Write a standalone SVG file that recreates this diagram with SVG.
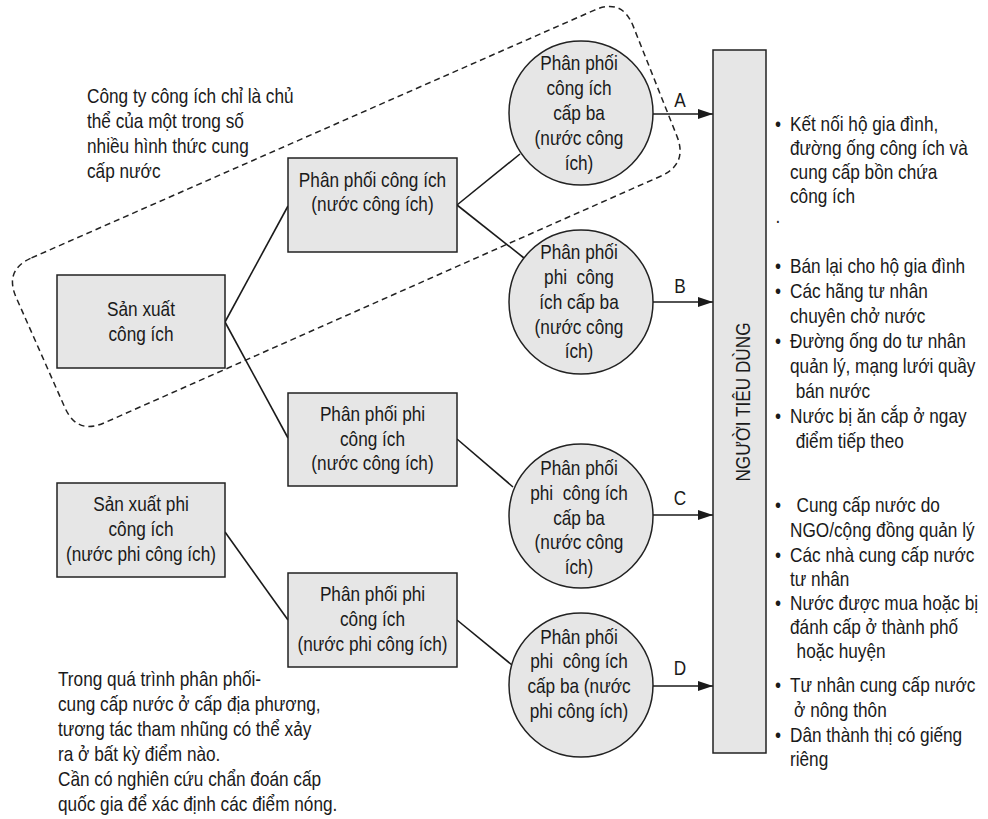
<svg xmlns="http://www.w3.org/2000/svg" width="988" height="819" viewBox="0 0 988 819">
  <style>
    .box { fill: #e6e6e6; stroke: #222; stroke-width: 1.5; }
    .t { font-family: "Liberation Sans", Arial, sans-serif; font-size: 21px; fill: #1a1a1a; }
    .c { text-anchor: middle; }
    .edge { stroke: #1a1a1a; stroke-width: 1.6; fill: none; }
    .arrow { stroke: #1a1a1a; stroke-width: 1.6; fill: none; marker-end: url(#head); }
    .region { stroke: #222; stroke-width: 1.5; stroke-dasharray: 6 4; fill: none; }
  </style>
  <defs>
    <marker id="head" markerUnits="userSpaceOnUse" markerWidth="15" markerHeight="10" refX="15" refY="5" orient="auto">
      <path d="M0,0 L15,5 L0,10 Z" fill="#1a1a1a"/>
    </marker>
  </defs>
  <rect width="988" height="819" fill="#ffffff"/>

  <!-- dashed boundary around the public utility chain -->
  <g id="utility-boundary">
    <path class="region" d="M31.5,257.9 L594.5,10.1 Q622,-2 633.1,25.9 L676.9,136.1 Q688,164 660.6,176.2 L104.4,422.8 Q77,435 64.8,407.5 L16.2,297.5 Q4,270 31.5,257.9 Z"/>
  </g>

  <!-- connectors -->
  <g id="connectors">
    <line class="edge" x1="225" y1="322" x2="288" y2="206"/>
    <line class="edge" x1="225" y1="322" x2="288" y2="438"/>
    <line class="edge" x1="457" y1="205" x2="520" y2="154"/>
    <line class="edge" x1="457" y1="205" x2="524" y2="258"/>
    <line class="edge" x1="457" y1="439" x2="513" y2="487"/>
    <line class="edge" x1="225" y1="532" x2="288" y2="620"/>
    <line class="edge" x1="457" y1="620" x2="512" y2="665"/>
    <line class="arrow" x1="653" y1="114" x2="713" y2="114"/>
    <line class="arrow" x1="653" y1="302" x2="713" y2="302"/>
    <line class="arrow" x1="653" y1="515" x2="713" y2="515"/>
    <line class="arrow" x1="653" y1="686" x2="713" y2="686"/>
    <text class="t c" transform="translate(680 0) scale(0.82 1)"><tspan x="0" y="107">A</tspan><tspan x="0" y="293">B</tspan><tspan x="0" y="505">C</tspan><tspan x="0" y="675">D</tspan></text>
  </g>

  <!-- production nodes -->
  <g id="utility-production">
    <rect class="box" x="57" y="275" width="168" height="93"/>
    <text class="t c" transform="translate(141 0) scale(0.82 1)"><tspan x="0" y="316">Sản xuất</tspan><tspan x="0" y="341">công ích</tspan></text>
  </g>
  <g id="non-utility-production">
    <rect class="box" x="57" y="483" width="168" height="94"/>
    <text class="t c" transform="translate(141 0) scale(0.82 1)"><tspan x="0" y="511">Sản xuất phi</tspan><tspan x="0" y="536">công ích</tspan><tspan x="0" y="561">(nước phi công ích)</tspan></text>
  </g>

  <!-- distribution nodes -->
  <g id="utility-distribution">
    <rect class="box" x="288" y="158" width="169" height="94"/>
    <text class="t c" transform="translate(372.5 0) scale(0.82 1)"><tspan x="0" y="187">Phân phối công ích</tspan><tspan x="0" y="211">(nước công ích)</tspan></text>
  </g>
  <g id="non-utility-distribution-utility-water">
    <rect class="box" x="288" y="393" width="169" height="93"/>
    <text class="t c" transform="translate(372.5 0) scale(0.82 1)"><tspan x="0" y="421">Phân phối phi</tspan><tspan x="0" y="446">công ích</tspan><tspan x="0" y="470">(nước công ích)</tspan></text>
  </g>
  <g id="non-utility-distribution-non-utility-water">
    <rect class="box" x="288" y="573" width="169" height="94"/>
    <text class="t c" transform="translate(372.5 0) scale(0.82 1)"><tspan x="0" y="601">Phân phối phi</tspan><tspan x="0" y="626">công ích</tspan><tspan x="0" y="651">(nước phi công ích)</tspan></text>
  </g>

  <!-- tertiary distribution nodes -->
  <g id="tertiary-a">
    <circle class="box" cx="581" cy="113" r="72"/>
    <text class="t c" transform="translate(579 0) scale(0.82 1)"><tspan x="0" y="70">Phân phối</tspan><tspan x="0" y="95">công ích</tspan><tspan x="0" y="120">cấp ba</tspan><tspan x="0" y="145">(nước công</tspan><tspan x="0" y="170">ích)</tspan></text>
  </g>
  <g id="tertiary-b">
    <circle class="box" cx="581" cy="302" r="72"/>
    <text class="t c" xml:space="preserve" transform="translate(579 0) scale(0.82 1)"><tspan x="0" y="259">Phân phối</tspan><tspan x="0" y="284">phi  công</tspan><tspan x="0" y="309">ích cấp ba</tspan><tspan x="0" y="334">(nước công</tspan><tspan x="0" y="358">ích)</tspan></text>
  </g>
  <g id="tertiary-c">
    <circle class="box" cx="581" cy="516" r="72"/>
    <text class="t c" xml:space="preserve" transform="translate(579 0) scale(0.82 1)"><tspan x="0" y="475">Phân phối</tspan><tspan x="0" y="500">phi  công ích</tspan><tspan x="0" y="525">cấp ba</tspan><tspan x="0" y="549">(nước công</tspan><tspan x="0" y="574">ích)</tspan></text>
  </g>
  <g id="tertiary-d">
    <circle class="box" cx="581" cy="685" r="72"/>
    <text class="t c" xml:space="preserve" transform="translate(579 0) scale(0.82 1)"><tspan x="0" y="644">Phân phối</tspan><tspan x="0" y="668">phi  công ích</tspan><tspan x="0" y="693">cấp ba (nước</tspan><tspan x="0" y="718">phi công ích)</tspan></text>
  </g>

  <!-- consumers -->
  <g id="consumers">
    <rect class="box" x="713" y="50" width="53" height="703"/>
    <text class="t c" transform="translate(750 402) rotate(-90) scale(0.82 1)">NGƯỜI TIÊU DÙNG</text>
  </g>

  <!-- notes -->
  <g id="note-utility">
    <text class="t" transform="translate(87 0) scale(0.82 1)"><tspan x="0" y="103">Công ty công ích chỉ là chủ</tspan><tspan x="0" y="128">thể của một trong số</tspan><tspan x="0" y="153">nhiều hình thức cung</tspan><tspan x="0" y="178">cấp nước</tspan></text>
  </g>
  <g id="note-corruption">
    <text class="t" transform="translate(58 0) scale(0.82 1)"><tspan x="0" y="686">Trong quá trình phân phối-</tspan><tspan x="0" y="711">cung cấp nước ở cấp địa phương,</tspan><tspan x="0" y="736">tương tác tham nhũng có thể xảy</tspan><tspan x="0" y="761">ra ở bất kỳ điểm nào.</tspan><tspan x="0" y="786">Cần có nghiên cứu chẩn đoán cấp</tspan><tspan x="0" y="811">quốc gia để xác định các điểm nóng.</tspan></text>
  </g>

  <!-- consumer supply lists -->
  <g id="supply-lists">
    <text class="t c" transform="translate(778 0) scale(0.82 1)"><tspan x="0" y="131">•</tspan><tspan x="0" y="223">.</tspan><tspan x="0" y="273">•</tspan><tspan x="0" y="298">•</tspan><tspan x="0" y="348">•</tspan><tspan x="0" y="423">•</tspan><tspan x="0" y="512">•</tspan><tspan x="0" y="562">•</tspan><tspan x="0" y="610">•</tspan><tspan x="0" y="692">•</tspan><tspan x="0" y="742">•</tspan></text>
    <text class="t" transform="translate(790 0) scale(0.82 1)">
      <tspan x="0" y="131">Kết nối hộ gia đình,</tspan>
      <tspan x="0" y="155">đường ống công ích và</tspan>
      <tspan x="0" y="179">cung cấp bồn chứa</tspan>
      <tspan x="0" y="203">công ích</tspan>
      <tspan x="0" y="273">Bán lại cho hộ gia đình</tspan>
      <tspan x="0" y="298">Các hãng tư nhân</tspan>
      <tspan x="0" y="323">chuyên chở nước</tspan>
      <tspan x="0" y="348">Đường ống do tư nhân</tspan>
      <tspan x="0" y="373">quản lý, mạng lưới quầy</tspan>
      <tspan x="7" y="398">bán nước</tspan>
      <tspan x="0" y="423">Nước bị ăn cắp ở ngay</tspan>
      <tspan x="7" y="448">điểm tiếp theo</tspan>
      <tspan x="8" y="512">Cung cấp nước do</tspan>
      <tspan x="0" y="537">NGO/cộng đồng quản lý</tspan>
      <tspan x="0" y="562">Các nhà cung cấp nước</tspan>
      <tspan x="0" y="586">tư nhân</tspan>
      <tspan x="0" y="610">Nước được mua hoặc bị</tspan>
      <tspan x="0" y="634">đánh cấp ở thành phố</tspan>
      <tspan x="8" y="658">hoặc huyện</tspan>
      <tspan x="0" y="692">Tư nhân cung cấp nước</tspan>
      <tspan x="5" y="717">ở nông thôn</tspan>
      <tspan x="0" y="742">Dân thành thị có giếng</tspan>
      <tspan x="0" y="766">riêng</tspan>
    </text>
  </g>
</svg>
